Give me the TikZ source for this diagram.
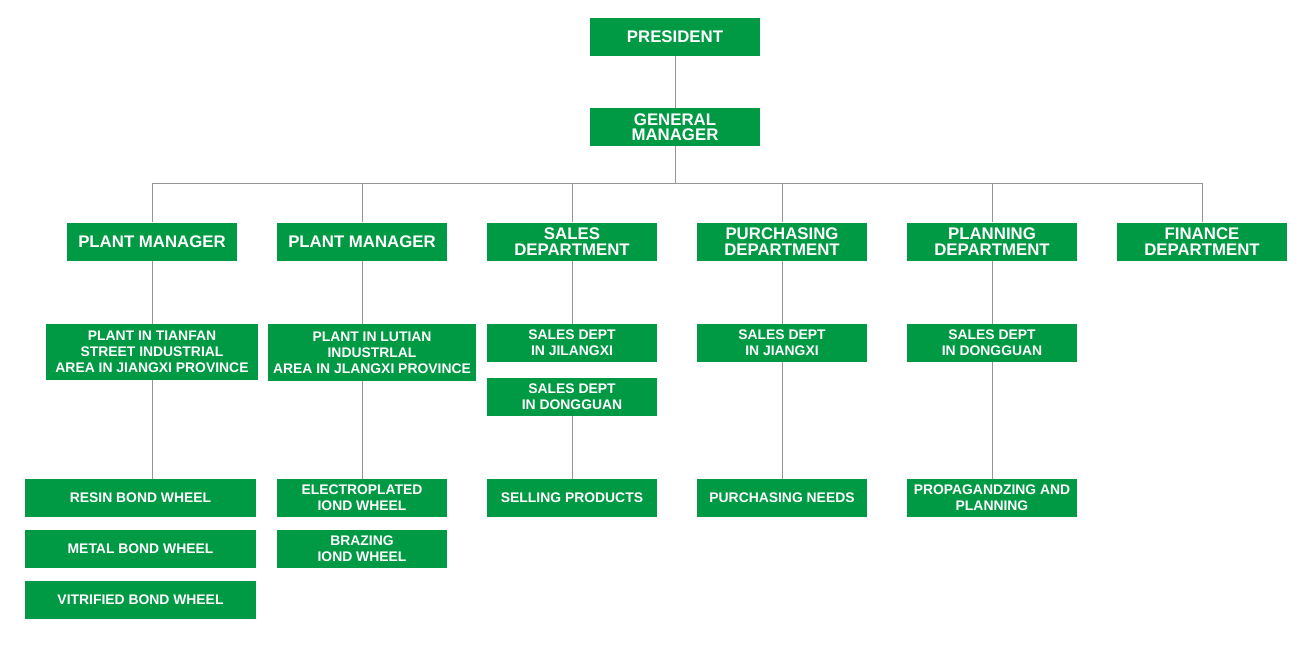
\documentclass[tikz,border=0pt]{standalone}
\usepackage{fontspec}
\setmainfont{Liberation Sans}
\definecolor{orggreen}{RGB}{0,153,68}
\definecolor{linkgray}{RGB}{150,150,150}
\tikzset{
  box/.style={fill=orggreen, text=white, inner sep=0pt, minimum width=170pt,
    minimum height=38pt, align=center, font=\bfseries\fontsize{16.8}{15.5}\selectfont},
  smallbox/.style={box, font=\bfseries\fontsize{13.9}{16}\selectfont},
  link/.style={draw=linkgray, line width=0.8pt}
}
\begin{document}
\begin{tikzpicture}[x=1pt, y=-1pt]
      \useasboundingbox (0,0) rectangle (1310,650);

      % top of the chart
      \node[box] (pres) at (675,37) {PRESIDENT};
      \node[box] (gm) at (675,127) {GENERAL\\MANAGER};

      % departments
      \node[box] (pm1) at (152,241.5) {PLANT MANAGER};
      \node[box] (pm2) at (362,241.5) {PLANT MANAGER};
      \node[box] (sales) at (572,241.5) {SALES\\DEPARTMENT};
      \node[box] (purch) at (782,241.5) {PURCHASING\\DEPARTMENT};
      \node[box] (plan) at (992,241.5) {PLANNING\\DEPARTMENT};
      \node[box] (fin) at (1202,241.5) {FINANCE\\DEPARTMENT};

      % plants and branch offices
      \node[smallbox, minimum width=212pt, minimum height=56pt] (tianfan) at (152,352)
        {PLANT IN TIANFAN\\STREET INDUSTRIAL\\AREA IN JIANGXI PROVINCE};
      \node[smallbox, minimum width=208pt, minimum height=57pt] (lutian) at (372,352.5)
        {PLANT IN LUTIAN\\INDUSTRLAL\\AREA IN JLANGXI PROVINCE};
      \node[smallbox] (sjil) at (572,343) {SALES DEPT\\IN JILANGXI};
      \node[smallbox] (sdong) at (572,397) {SALES DEPT\\IN DONGGUAN};
      \node[smallbox] (pjx) at (782,343) {SALES DEPT\\IN JIANGXI};
      \node[smallbox] (pldong) at (992,343) {SALES DEPT\\IN DONGGUAN};

      % products and tasks
      \node[smallbox, minimum width=231pt] (resin) at (140.5,498) {RESIN BOND WHEEL};
      \node[smallbox, minimum width=231pt] (metal) at (140.5,549) {METAL BOND WHEEL};
      \node[smallbox, minimum width=231pt] (vitri) at (140.5,600) {VITRIFIED BOND WHEEL};
      \node[smallbox] (electro) at (362,498) {ELECTROPLATED\\IOND WHEEL};
      \node[smallbox] (brazing) at (362,549) {BRAZING\\IOND WHEEL};
      \node[smallbox] (selling) at (572,498) {SELLING PRODUCTS};
      \node[smallbox] (needs) at (782,498) {PURCHASING NEEDS};
      \node[smallbox] (propag) at (992,498) {PROPAGANDZING AND\\PLANNING};

      % connectors
      \draw[link] (pres) -- (gm);
      \foreach \d in {pm1,pm2,sales,purch,plan,fin}
        \draw[link] (gm.south) -- ++(0,37) -| (\d.north);
      \draw[link] (pm1.south) -- (pm1.south |- tianfan.north);
      \draw[link] (pm1.south |- tianfan.south) -- (pm1.south |- resin.north);
      \draw[link] (pm2.south) -- (pm2.south |- lutian.north);
      \draw[link] (pm2.south |- lutian.south) -- (pm2.south |- electro.north);
      \draw[link] (sales) -- (sjil);
      \draw[link] (sdong) -- (selling);
      \draw[link] (purch) -- (pjx);
      \draw[link] (pjx) -- (needs);
      \draw[link] (plan) -- (pldong);
      \draw[link] (pldong) -- (propag);
    \end{tikzpicture}
\end{document}
